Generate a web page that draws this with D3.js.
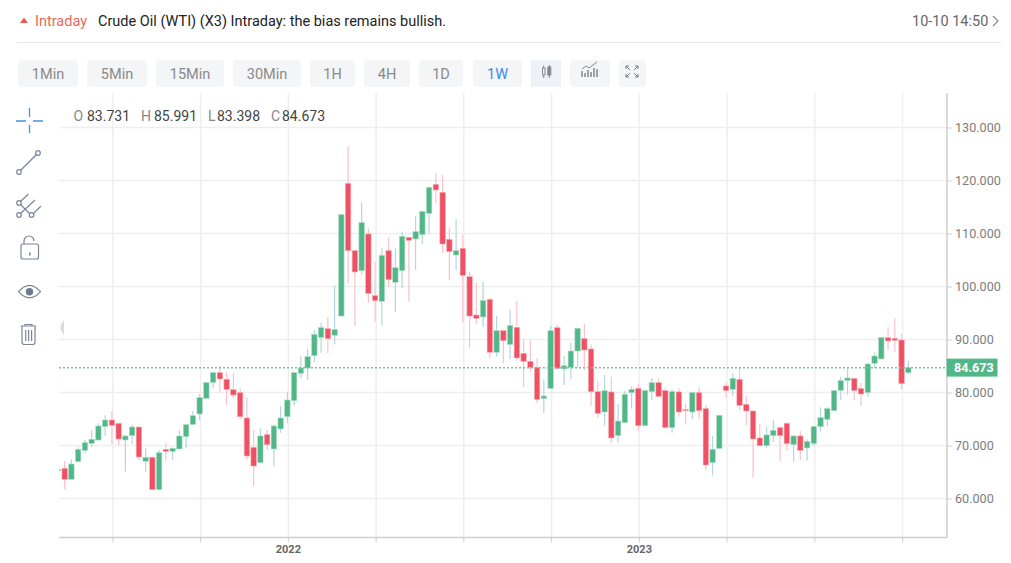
<!DOCTYPE html>
<html>
<head>
<meta charset="utf-8">
<script src="https://cdnjs.cloudflare.com/ajax/libs/d3/7.8.5/d3.min.js"></script>
<style>
html, body { margin: 0; padding: 0; background: #fff; }
svg { display: block; }
text { font-family: "Roboto", "Noto Sans", sans-serif; }
.icon { fill: none; stroke: #7a8698; stroke-width: 1.2; }
</style>
</head>
<body>
<div id="chart"></div>
<script>
// weekly candles
var opens = [65.25,65.69,63.62,66.95,69.09,70.41,71.04,73.56,74.81,74.18,
71.04,71.86,73.49,67.02,67.77,61.67,69.28,68.90,69.34,71.67,
74.00,75.95,78.90,81.92,83.74,82.49,80.54,79.97,75.19,69.66,
66.76,72.05,69.34,73.12,75.44,78.46,83.62,84.62,86.95,90.41,
92.04,90.79,94.43,119.46,106.76,102.99,109.91,98.27,97.20,106.76,
100.79,102.99,109.28,108.96,109.78,113.80,119.28,117.77,108.90,105.94,
107.20,101.86,94.62,94.25,97.58,87.58,91.67,89.09,92.30,87.39,
85.88,84.75,78.84,80.79,92.23,84.44,84.75,87.83,90.16,88.21,
80.16,76.32,80.10,71.86,74.31,79.97,80.79,73.74,80.16,81.86,
80.35,73.37,80.10,76.76,76.32,79.97,76.95,66.77,69.47,81.23,
80.60,82.49,77.77,76.51,71.42,69.97,71.86,73.37,74.19,70.16,
71.80,69.53,70.35,73.56,74.94,76.58,80.41,82.24,82.68,80.73,
79.97,85.51,86.33,90.35,90.22,89.91,83.731];

var highs = [65.6,67.14,67.39,69.66,71.04,72.93,74.18,75.69,76.57,74.31,
71.98,73.93,73.56,69.47,67.90,69.15,70.54,69.66,72.93,74.06,
76.51,79.72,82.05,83.81,85.06,83.93,83.74,80.79,79.09,72.93,
73.24,72.93,73.93,77.45,80.16,83.81,86.95,88.21,91.79,93.18,
94.18,100.22,113.62,126.51,106.80,115.88,110.97,104.69,107.20,109.28,
107.20,110.35,109.32,113.30,114.31,118.84,121.48,121.04,110.97,112.67,
109.72,102.67,100.72,100.97,97.77,94.43,91.70,95.69,97.33,90.16,
89.78,86.51,82.49,92.55,92.74,86.95,89.40,92.23,92.93,89.09,
82.23,83.30,82.99,77.83,80.28,81.23,81.61,80.47,82.74,82.67,
80.79,80.60,80.79,77.83,80.03,81.10,77.64,71.80,75.82,81.86,
83.62,84.75,79.34,76.58,74.06,73.56,74.82,73.56,74.38,71.99,
72.74,71.17,73.69,77.21,77.21,80.48,82.99,84.56,82.74,81.86,
85.51,87.58,90.48,92.30,94.00,91.04,85.991];

var lows = [65.2,61.73,63.62,66.83,68.52,69.78,70.91,71.86,70.29,70.10,
65.07,70.29,67.27,65.07,61.67,61.67,67.14,67.27,69.28,69.47,
73.87,74.81,78.84,80.79,80.16,77.58,78.90,75.00,67.27,62.42,
66.76,69.15,66.01,72.42,74.18,77.52,82.67,82.36,85.82,87.52,
87.39,89.09,94.37,100.60,92.55,102.30,96.95,93.30,92.74,99.97,
95.25,99.65,97.20,103.11,108.02,109.91,115.69,106.26,101.23,103.11,
93.30,88.46,92.92,92.42,86.45,86.76,85.50,86.32,85.88,80.98,
83.93,77.96,76.07,80.72,84.44,81.35,82.49,84.75,84.25,77.52,
75.25,73.74,70.41,70.54,74.18,76.95,72.74,73.74,78.59,79.09,
73.30,72.42,75.44,73.93,75.00,75.00,65.38,64.38,69.28,79.03,
79.41,76.70,73.87,63.94,69.91,69.47,70.73,67.14,69.16,66.96,
67.27,67.14,69.91,72.62,73.69,76.52,78.59,79.60,78.59,77.46,
79.22,84.56,86.26,88.02,87.71,80.67,83.398];

var closes = [65.5,63.62,66.51,69.28,70.54,71.17,73.68,74.81,73.81,71.23,
71.79,73.49,67.83,67.77,61.67,68.65,68.90,69.47,71.79,73.93,
75.63,79.03,81.86,83.74,82.55,80.60,79.53,75.44,68.02,66.13,
71.79,70.16,73.68,75.19,78.59,83.74,84.62,86.76,90.98,92.23,
90.16,91.86,113.55,106.76,102.74,112.04,98.71,97.33,105.88,101.29,
103.55,109.46,108.71,110.35,114.18,118.71,118.21,108.02,106.57,106.76,
102.11,94.43,93.99,97.33,87.58,91.67,89.78,92.67,86.51,85.88,
84.75,78.71,79.34,91.67,84.56,85.06,87.83,92.11,88.02,80.16,
76.07,80.35,71.42,74.62,79.66,80.60,73.74,80.35,81.86,79.28,
73.37,80.16,76.32,76.57,79.97,76.57,66.32,69.28,75.70,80.35,
82.68,77.58,76.51,71.23,69.97,71.99,72.87,71.86,70.35,71.80,
69.09,70.79,73.56,75.26,76.95,80.35,82.24,82.74,80.35,79.72,
85.38,86.89,90.35,89.72,89.85,81.67,84.673];

var priceTicks = [60, 70, 80, 90, 100, 110, 120, 130];
var timeTicks = [8, 21, 34, 47, 60, 73, 86, 99, 112, 125];
var timeLabels = {34: "2022", 86: "2023"};
var lastPrice = 84.673;

var buttons = ["1Min", "5Min", "15Min", "30Min", "1H", "4H", "1D", "1W"];
var buttonEdges = [[18,78],[87,147],[156,224],[233,301],[310,355],[364,410],[419,463],[473,522]];

var width = 1011, height = 563;
var plot = {left: 59, right: 947, top: 93, bottom: 537.5};

var svg = d3.select("#chart").append("svg")
	.attr("width", width)
	.attr("height", height);

var x = d3.scaleLinear().domain([0, 126]).range([57.9, 908.3]);
var y = d3.scaleLinear().domain([60, 130]).range([498.5, 127.5]);

// header
svg.append("path").attr("d", "M20 23 L24 17.5 L28 23 Z").attr("fill", "#e8604f");
svg.append("text").attr("x", 35).attr("y", 26).attr("font-size", 14.5).attr("fill", "#e8675a").text("Intraday");
svg.append("text").attr("x", 98).attr("y", 26).attr("font-size", 14.5).attr("fill", "#222").text("Crude Oil (WTI) (X3) Intraday: the bias remains bullish.");
svg.append("text").attr("x", 912).attr("y", 26).attr("font-size", 14.5).attr("fill", "#666").text("10-10 14:50");
svg.append("path").attr("d", "M993 16 L998 21 L993 26").attr("fill", "none").attr("stroke", "#888").attr("stroke-width", 1.2);
svg.append("line").attr("x1", 17).attr("x2", 1001).attr("y1", 42.5).attr("y2", 42.5).attr("stroke", "#e6e6e6");

// period buttons
var btn = svg.append("g").selectAll("g").data(buttons).enter().append("g");
btn.append("rect")
	.attr("x", function(d, i) { return buttonEdges[i][0]; })
	.attr("width", function(d, i) { return buttonEdges[i][1] - buttonEdges[i][0]; })
	.attr("y", 60).attr("height", 27).attr("rx", 4)
	.attr("fill", "#f4f5f6");
btn.append("text")
	.attr("x", function(d, i) { return (buttonEdges[i][0] + buttonEdges[i][1]) / 2; })
	.attr("y", 78.5)
	.attr("text-anchor", "middle")
	.attr("font-size", 14.5)
	.attr("fill", function(d) { return d == "1W" ? "#3d86ee" : "#8a8a8a"; })
	.text(function(d) { return d; });

// toolbar icons on the right of the buttons
svg.append("rect").attr("x", 531).attr("y", 60).attr("width", 30).attr("height", 27).attr("fill", "#eef2f8");
svg.append("rect").attr("x", 570).attr("y", 60).attr("width", 40).attr("height", 27).attr("rx", 4).attr("fill", "#f4f5f6");
svg.append("rect").attr("x", 619).attr("y", 60).attr("width", 27).attr("height", 27).attr("rx", 4).attr("fill", "#f4f5f6");
var ic = svg.append("g").attr("fill", "none").attr("stroke", "#888");
ic.append("rect").attr("x", 542.5).attr("y", 68).attr("width", 2.5).attr("height", 7);
ic.append("path").attr("d", "M543.7 65.5V68M543.7 75V78M549.3 65V78");
ic.append("rect").attr("x", 547.8).attr("y", 67).attr("width", 3).attr("height", 8).attr("fill", "#888");
ic.append("path").attr("d", "M582 77V71M585 77V73M588 77V70M591 77V72M594 77V68M597 77V69").attr("stroke-width", 1.5);
ic.append("path").attr("d", "M582 69L586 66L589 68L593 65L597 62");
ic.append("path").attr("d", "M626 69V66H629M626 66L630 70M638 69V66H635M638 66L634 70M626 74V77H629M626 77L630 73M638 74V77H635M638 77L634 73").attr("stroke", "#777");

// grid and axes
svg.append("g").selectAll("line").data(priceTicks).enter().append("line")
	.attr("x1", plot.left).attr("x2", plot.right)
	.attr("y1", function(d) { return y(d); }).attr("y2", function(d) { return y(d); })
	.attr("stroke", "#eeeeee").attr("stroke-width", 1.5);
svg.append("g").selectAll("line").data(timeTicks).enter().append("line")
	.attr("x1", function(d) { return x(d) + 1; }).attr("x2", function(d) { return x(d) + 1; })
	.attr("y1", plot.top).attr("y2", plot.bottom)
	.attr("stroke", "#eeeeee").attr("stroke-width", 1.5);

var yAxis = d3.axisRight(y).tickValues(priceTicks).tickFormat(d3.format(".3f")).tickSize(5).tickPadding(3);
var gy = svg.append("g").attr("transform", "translate(" + plot.right + ",0)").call(yAxis);
gy.select(".domain").attr("d", "M0 " + plot.top + "V" + plot.bottom).attr("stroke", "#cfcfcf").attr("stroke-width", 1.5);
gy.selectAll(".tick line").attr("stroke", "#cfcfcf");
gy.selectAll(".tick text").attr("font-family", "Liberation Sans, Arial, sans-serif").attr("font-size", 12.6).attr("fill", "#7d7d7d");

var xAxis = d3.axisBottom(x).tickValues(timeTicks).tickFormat(function(d) { return timeLabels[d] || ""; }).tickSize(5).tickPadding(3);
var gx = svg.append("g").attr("transform", "translate(0," + plot.bottom + ")").call(xAxis);
gx.select(".domain").attr("d", "M" + plot.left + " 0H" + plot.right).attr("stroke", "#cfcfcf").attr("stroke-width", 1.5);
gx.selectAll(".tick").attr("transform", function(d) { return "translate(" + (x(d) + 1) + ",0)"; });
gx.selectAll(".tick line").attr("stroke", "#cfcfcf");
gx.selectAll(".tick text").attr("font-family", "Liberation Sans, Arial, sans-serif").attr("font-size", 11).attr("font-weight", "bold").attr("fill", "#666");

// candles
svg.append("clipPath").attr("id", "plot-clip").append("rect")
	.attr("x", plot.left).attr("y", plot.top)
	.attr("width", plot.right - plot.left).attr("height", plot.bottom - plot.top);

var candle = svg.append("g").attr("clip-path", "url(#plot-clip)")
	.selectAll("g").data(opens).enter().append("g");

function isUp(i) { return closes[i] >= opens[i]; }

candle.append("line")
	.attr("x1", function(d, i) { return x(i); }).attr("x2", function(d, i) { return x(i); })
	.attr("y1", function(d, i) { return y(highs[i]); }).attr("y2", function(d, i) { return y(lows[i]); })
	.attr("stroke", function(d, i) { return isUp(i) ? "#b4d6dc" : "#f9c3ca"; })
	.attr("stroke-width", 1.2);

candle.append("rect")
	.attr("x", function(d, i) { return x(i) - 2.7; })
	.attr("width", 5.4)
	.attr("y", function(d, i) { return y(Math.max(opens[i], closes[i])); })
	.attr("height", function(d, i) { return Math.max(1, Math.abs(y(opens[i]) - y(closes[i]))); })
	.attr("fill", function(d, i) { return isUp(i) ? "#52b788" : "#ef5063"; })
	.attr("stroke", function(d, i) { return isUp(i) ? "#a8dcc2" : "#f7a9b3"; })
	.attr("stroke-width", 0.6);

// last price line and tag
svg.append("line")
	.attr("x1", plot.left).attr("x2", plot.right)
	.attr("y1", y(lastPrice)).attr("y2", y(lastPrice))
	.attr("stroke", "#74c59f").attr("stroke-width", 1.5).attr("stroke-dasharray", "2 2");
svg.append("rect")
	.attr("x", plot.right - 0.5).attr("y", y(lastPrice) - 9)
	.attr("width", 51).attr("height", 18)
	.attr("fill", "#52b788").attr("stroke", "#a8dcc2").attr("stroke-width", 0.6);
svg.append("text")
	.attr("x", 954).attr("y", y(lastPrice) + 4.5)
	.attr("font-family", "Liberation Sans, Arial, sans-serif").attr("font-size", 12.6).attr("font-weight", "bold")
	.attr("fill", "#fff").text(d3.format(".3f")(lastPrice));

// OHLC readout
var readout = [["O", 73.5, "83.731", 87], ["H", 141, "85.991", 154], ["L", 208, "83.398", 217], ["C", 271, "84.673", 282]];
readout.forEach(function(r) {
	svg.append("text").attr("x", r[1]).attr("y", 121).attr("font-size", 14).attr("fill", "#888").text(r[0]);
	svg.append("text").attr("x", r[3]).attr("y", 121).attr("font-size", 14).attr("fill", "#444").text(r[2]);
});

// drawing tools on the left
var tools = svg.append("g");
tools.append("path").attr("d", "M16 121H26M33 121H43M29.5 108V117M29.5 125V133").attr("fill", "none").attr("stroke", "#4a90e2").attr("stroke-width", 1.3);
var t = tools.append("g").attr("class", "icon");
t.append("path").attr("d", "M20.5 170.5L36.5 154.5");
t.append("circle").attr("cx", 19).attr("cy", 172).attr("r", 2.3);
t.append("circle").attr("cx", 38).attr("cy", 153).attr("r", 2.3);
t.append("path").attr("d", "M20.5 201.5L28.5 194M20.5 213.5L35 200M33.5 213.5L41 206M20.5 204.5L29.5 213.5");
t.append("circle").attr("cx", 19).attr("cy", 203).attr("r", 2.3);
t.append("circle").attr("cx", 19).attr("cy", 215).attr("r", 2.3);
t.append("circle").attr("cx", 31.5).attr("cy", 215).attr("r", 2.3);
t.append("rect").attr("x", 21).attr("y", 244).attr("width", 17.5).attr("height", 15).attr("rx", 2);
t.append("path").attr("d", "M24 244V241A5 5 0 0 1 34 241");
tools.append("rect").attr("x", 29).attr("y", 252.5).attr("width", 1.6).attr("height", 3).attr("fill", "#7a8698");
t.append("path").attr("d", "M18.5 291.7Q29.5 279 40.5 291.7Q29.5 304 18.5 291.7Z");
tools.append("circle").attr("cx", 29.5).attr("cy", 291.7).attr("r", 3.7).attr("fill", "#6c7a8e");
t.append("path").attr("d", "M20.7 326H36M25 326V324.5H32V326M22 326V342Q22 344.5 24.5 344.5H32.5Q35 344.5 35 342V326M25.7 330V341M28.6 330V341M31.6 330V341");
svg.append("path").attr("d", "M64 320V335L60.5 330V325Z").attr("fill", "#dcdcdc");
</script>
</body>
</html>
